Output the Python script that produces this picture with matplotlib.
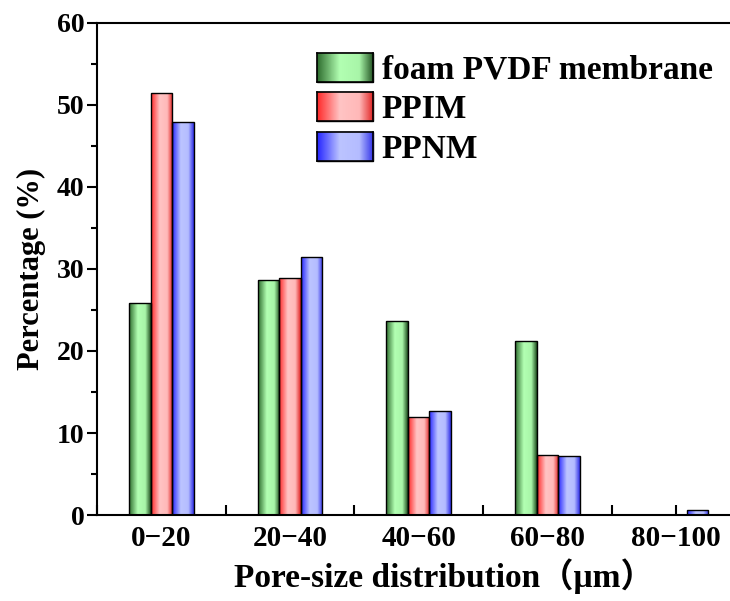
import numpy as np
import matplotlib
matplotlib.use("Agg")
import matplotlib.pyplot as plt
from matplotlib.colors import LinearSegmentedColormap
from matplotlib.ticker import MultipleLocator

plt.rcParams['font.family'] = ['Liberation Serif', 'Noto Sans CJK SC']
plt.rcParams['font.weight'] = 'bold'

categories = ['0\u221220', '20\u221240', '40\u221260', '60\u221280', '80\u2212100']
series_names = ['foam PVDF membrane', 'PPIM', 'PPNM']
foam_pvdf = [25.8, 28.6, 23.6, 21.2, 0.0]
ppim = [51.5, 28.9, 12.0, 7.35, 0.0]
ppnm = [47.9, 31.5, 12.7, 7.2, 0.6]

# left edge, light, light, right edge colours of each bar gradient
gradients = [
    ['#2f6e2f', '#b2ffb2', '#a8f5a8', '#1f4f1f'],
    ['#ff2a2a', '#ffc4c4', '#ffb8b8', '#e02020'],
    ['#2626ff', '#bcc4ff', '#b4bcff', '#3030e8'],
]


def make_cmap(colors):
    return LinearSegmentedColormap.from_list(
        'g', list(zip([0.0, 0.4, 0.75, 1.0], colors)))


fig = plt.figure(figsize=(7.3, 6.01), dpi=100)
ax = fig.add_axes([0.133, 0.143, 0.881, 0.819])

x = np.arange(len(categories))
width = 0.167
grad = np.linspace(0, 1, 64).reshape(1, -1)
cmaps = [make_cmap(g) for g in gradients]

for i, (vals, name) in enumerate(zip([foam_pvdf, ppim, ppnm], series_names)):
    bars = ax.bar(x + (i - 1) * width, vals, width, color='none',
                  edgecolor='black', linewidth=1.0, label=name, zorder=3)
    for b in bars:
        if b.get_height() <= 0:
            continue
        im = ax.imshow(grad, cmap=cmaps[i], aspect='auto', zorder=2,
                       extent=[b.get_x(), b.get_x() + b.get_width(),
                               0, b.get_height()])
        im.set_clip_path(b)

ax.set_xlim(-0.5, 4.5)
ax.set_ylim(0, 60)

ax.set_xticks(x)
ax.set_xticklabels(categories)
ax.set_xticks(np.arange(-0.5, 4.6, 1.0), minor=True)
ax.tick_params(axis='x', which='both', direction='in', length=7, width=1.5,
               labelsize=21, pad=7)
ax.yaxis.set_major_locator(MultipleLocator(10))
ax.yaxis.set_minor_locator(MultipleLocator(5))
ax.tick_params(axis='y', which='major', direction='out', length=7, width=1.5,
               labelsize=20, pad=2)
ax.tick_params(axis='y', which='minor', direction='out', length=4, width=1.5)

for s in ax.spines.values():
    s.set_linewidth(1.5)

ax.set_xlabel('Pore-size distribution\uff08\u03bcm\uff09', fontsize=24,
              fontweight='bold', labelpad=5)
ax.xaxis.label.set_x(0.54)
ax.set_ylabel('Percentage (%)', fontsize=22, fontweight='bold', labelpad=8)

leg = ax.legend(loc='upper left', bbox_to_anchor=(0.295, 1.0), frameon=False,
                fontsize=24, handlelength=1.7, handleheight=0.95,
                handletextpad=0.25, labelspacing=0.2)

# paint the gradient into each legend key
fig.canvas.draw()
inv = fig.transFigure.inverted()
for patch, cmap in zip(leg.get_patches(), cmaps):
    bb = patch.get_window_extent().transformed(inv)
    kax = fig.add_axes([bb.x0, bb.y0, bb.width, bb.height])
    kax.imshow(grad, cmap=cmap, aspect='auto')
    kax.set_xticks([])
    kax.set_yticks([])
    for s in kax.spines.values():
        s.set_linewidth(1.2)

fig.savefig('out.png', dpi=100)
